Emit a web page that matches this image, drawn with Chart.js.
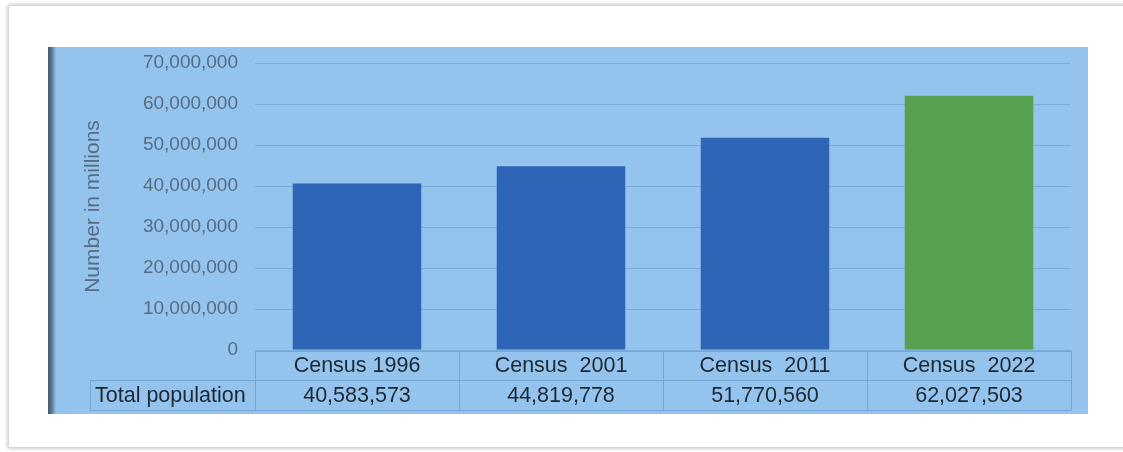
<!DOCTYPE html>
<html lang="en">
<head>
  <meta charset="UTF-8" />
  <title>Total population by census</title>
  <script src="https://cdn.jsdelivr.net/npm/chart.js"></script>
  <style>
    html, body {
      margin: 0;
      padding: 0;
      background: #ffffff;
      width: 1123px;
      height: 452px;
      overflow: hidden;
      position: relative;
      font-family: 'Liberation Sans', Arial, sans-serif;
    }

    .card {
      position: absolute;
      left: 8px;
      top: 5px;
      width: 1130px;
      height: 441px;
      background: #ffffff;
      border: 1px solid #d6d6d6;
      box-shadow: 0 0 4px rgba(0,0,0,0.3);
    }

    .panel {
      position: absolute;
      left: 48px;
      top: 47px;
      width: 1040px;
      height: 367px;
      background: #94c4ed;
    }

    .panel .edge {
      position: absolute;
      left: 0;
      top: 0;
      width: 8px;
      height: 100%;
      background: linear-gradient(to right, #4a5b6e, #5b7590 45%, #94c4ed);
    }

    canvas {
      position: absolute;
      left: 0;
      top: 0;
    }
  </style>
</head>
<body>
  <div class="card"></div>
  <div class="panel"><div class="edge"></div></div>
  <canvas id="popChart" width="1123" height="452"></canvas>

  <script>
    const categories = ['Census 1996', 'Census  2001', 'Census  2011', 'Census  2022'];
    const population = [40583573, 44819778, 51770560, 62027503];
    const barColors = ['#2e65b6', '#2e65b6', '#2e65b6', '#57a050'];
    const rowLabel = 'Total population';
    const yMax = 70000000;
    const yStep = 10000000;

    const FONT = "'Liberation Sans', Arial, sans-serif";
    const fmt = v => v.toLocaleString('en-US');

    // draws the data table under the plot, lined up with the x scale
    const dataTable = {
      id: 'dataTable',
      afterDraw(chart) {
        const ctx = chart.ctx;
        const x = chart.scales.x;
        const area = chart.chartArea;
        const colW = (area.right - area.left) / categories.length;
        const top = area.bottom + 1;
        const mid = top + 29;
        const bottom = mid + 30;
        const labelLeft = 90;

        ctx.save();
        ctx.strokeStyle = '#76a6d3';
        ctx.lineWidth = 1;
        ctx.beginPath();
        // horizontal lines
        ctx.moveTo(area.left, top + 0.5); ctx.lineTo(area.right, top + 0.5);
        ctx.moveTo(labelLeft, mid + 0.5); ctx.lineTo(area.right, mid + 0.5);
        ctx.moveTo(labelLeft, bottom + 0.5); ctx.lineTo(area.right, bottom + 0.5);
        // vertical lines
        ctx.moveTo(labelLeft + 0.5, mid); ctx.lineTo(labelLeft + 0.5, bottom);
        for (let i = 0; i <= categories.length; i++) {
          const px = Math.round(area.left + i * colW) + 0.5;
          ctx.moveTo(px, top); ctx.lineTo(px, bottom);
        }
        ctx.stroke();

        ctx.fillStyle = '#1e2833';
        ctx.font = '21.5px ' + FONT;
        ctx.textBaseline = 'middle';
        ctx.textAlign = 'center';
        categories.forEach((c, i) => {
          const cx = x.getPixelForValue(i);
          ctx.fillText(c, cx, (top + mid) / 2 + 1);
          ctx.fillText(fmt(population[i]), cx, (mid + bottom) / 2 + 1);
        });
        ctx.textAlign = 'left';
        ctx.fillText(rowLabel, labelLeft + 5, (mid + bottom) / 2 + 1);
        ctx.restore();
      }
    };

    const ctx = document.getElementById('popChart').getContext('2d');
    new Chart(ctx, {
      type: 'bar',
      data: {
        labels: categories,
        datasets: [{
          data: population,
          backgroundColor: barColors,
          borderWidth: 0,
          categoryPercentage: 1,
          barPercentage: 0.63
        }]
      },
      options: {
        responsive: false,
        animation: false,
        layout: {
          padding: { top: 63, right: 52, bottom: 102, left: 0 }
        },
        plugins: {
          legend: { display: false },
          title: { display: false },
          tooltip: { enabled: false }
        },
        scales: {
          x: {
            display: false,
            offset: true
          },
          y: {
            min: 0,
            max: yMax,
            afterFit(scale) { scale.width = 255; },
            border: { display: false },
            grid: {
              color: '#7badda',
              drawTicks: false
            },
            ticks: {
              stepSize: yStep,
              padding: 17,
              color: '#566c84',
              font: { family: FONT, size: 19 },
              callback: v => fmt(v)
            },
            title: {
              display: true,
              text: 'Number in millions',
              color: '#566c84',
              font: { family: FONT, size: 21 },
              padding: { top: 81, bottom: 0 }
            }
          }
        }
      },
      plugins: [dataTable]
    });
  </script>
</body>
</html>
